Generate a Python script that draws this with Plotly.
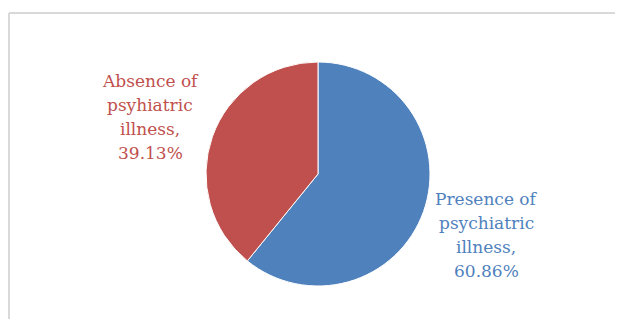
import plotly.graph_objects as go

labels = ["Presence of<br>psychiatric<br>illness", "Absence of<br>psyhiatric<br>illness"]
values = [60.86, 39.13]
colors = ["#4F81BD", "#C0504D"]

OFF = 8  # page body margin offset
W, H = 623 - 2 * OFF, 327 - 2 * OFF
cx, cy, r = 318 - OFF, 174 - OFF, 112

fig = go.Figure(go.Pie(
    labels=labels,
    values=values,
    sort=False,
    direction="clockwise",
    rotation=0,
    marker=dict(colors=colors, line=dict(color="white", width=1)),
    textinfo="none",
    hoverinfo="label+value",
    showlegend=False,
    domain=dict(x=[(cx - r) / W, (cx + r) / W], y=[(H - cy - r) / H, (H - cy + r) / H]),
))

label_pos = [(486 - OFF, 235 - OFF), (150 - OFF, 117 - OFF)]
LINE_GAP = 24.3
for lab, val, col, (x, y) in zip(labels, values, colors, label_pos):
    lines = f"{lab},<br>{val:.2f}%".split("<br>")
    n = len(lines)
    for i, ln in enumerate(lines):
        yy = y + (i - (n - 1) / 2) * LINE_GAP
        fig.add_annotation(
            x=x / W, y=1 - yy / H, xref="paper", yref="paper",
            text=ln, showarrow=False, align="center",
            xanchor="center", yanchor="middle",
            font=dict(family="DejaVu Serif", size=17, color=col),
        )

frame = dict(color="#d9d9d9", width=2)
fig.add_shape(type="line", xref="paper", yref="paper",
              x0=1 / W, x1=1 / W, y0=0, y1=1 - 5 / H, line=frame)
fig.add_shape(type="line", xref="paper", yref="paper",
              x0=1 / W, x1=1, y0=1 - 5 / H, y1=1 - 5 / H, line=frame)

fig.update_layout(width=W, height=H, margin=dict(l=0, r=0, t=0, b=0),
                  paper_bgcolor="white", plot_bgcolor="white")
fig.write_html("out.html")
